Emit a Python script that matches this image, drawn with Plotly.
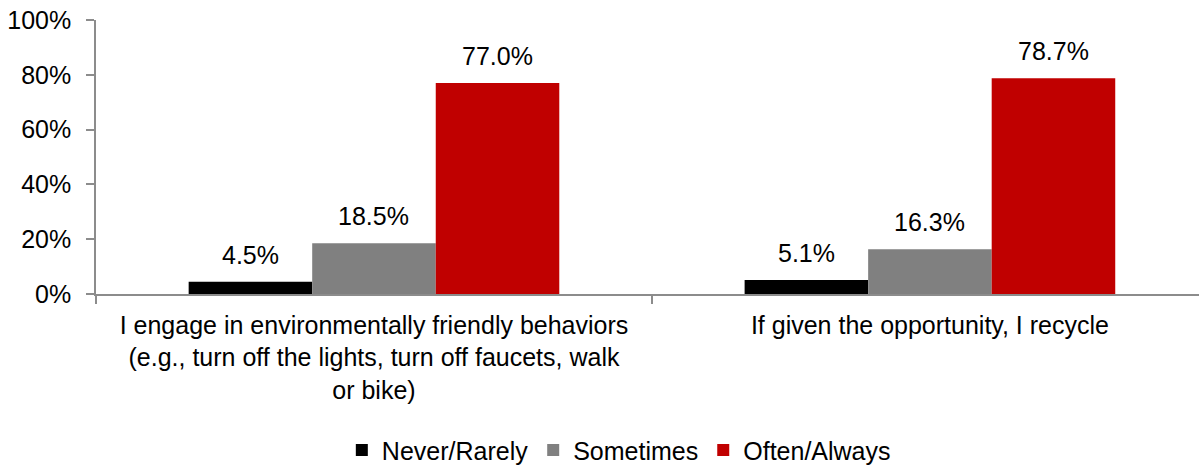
import plotly.graph_objects as go

categories = [
    "I engage in environmentally friendly behaviors<br>(e.g., turn off the lights, turn off faucets, walk<br>or bike)",
    "If given the opportunity, I recycle",
]
series_names = ["Never/Rarely", "Sometimes", "Often/Always"]
never_rarely = [4.5, 5.1]
sometimes = [18.5, 16.3]
often_always = [77.0, 78.7]
series_values = [never_rarely, sometimes, often_always]
colors = ["#000000", "#808080", "#C00000"]
y_ticks = [0, 20, 40, 60, 80, 100]
y_tick_labels = ["0%", "20%", "40%", "60%", "80%", "100%"]

FONT = "Liberation Sans, Arial, sans-serif"
bargap = 1 / 3
bar_w = (1 - bargap) / len(series_names)

fig = go.Figure()
for name, vals, col in zip(series_names, series_values, colors):
    fig.add_trace(go.Bar(x=categories, y=vals, name=name, marker=dict(color=col, line=dict(width=0))))

# data labels above bars
for j, vals in enumerate(series_values):
    for i, v in enumerate(vals):
        fig.add_annotation(
            x=i + (j - (len(series_names) - 1) / 2) * bar_w,
            y=v, xref="x", yref="y", text=f"{v:.1f}%", showarrow=False,
            yshift=27, yanchor="middle",
            font=dict(family=FONT, size=25, color="#000000"),
        )

fig.update_layout(
    width=1199, height=468,
    margin=dict(l=96, r=0, t=20, b=174, autoexpand=False),
    paper_bgcolor="white", plot_bgcolor="white",
    barmode="group", bargap=bargap, bargroupgap=0,
    font=dict(family=FONT, size=25, color="#000000"),
    showlegend=True,
    legend=dict(orientation="h", x=0.474, xanchor="center", y=-0.57, yanchor="middle",
                font=dict(family=FONT, size=25, color="#000000"), traceorder="normal"),
)
fig.update_xaxes(
    type="category", range=[-0.5, 1.484],
    showline=True, linecolor="#8C8C8C", linewidth=1.5,
    ticks="outside", tickson="boundaries", ticklen=8, tickcolor="#8C8C8C", tickwidth=1.5,
    ticklabelstandoff=8,
    showgrid=False, zeroline=False,
    tickfont=dict(family=FONT, size=25, color="#000000"),
)
fig.update_yaxes(
    range=[0, 100], tickvals=y_ticks, ticktext=y_tick_labels,
    showline=True, linecolor="#8C8C8C", linewidth=1.5,
    ticks="outside", ticklen=8, tickcolor="#8C8C8C", tickwidth=1.5,
    ticklabelstandoff=10,
    showgrid=False, zeroline=False,
    tickfont=dict(family=FONT, size=25, color="#000000"),
)

fig.write_html("out.html")
